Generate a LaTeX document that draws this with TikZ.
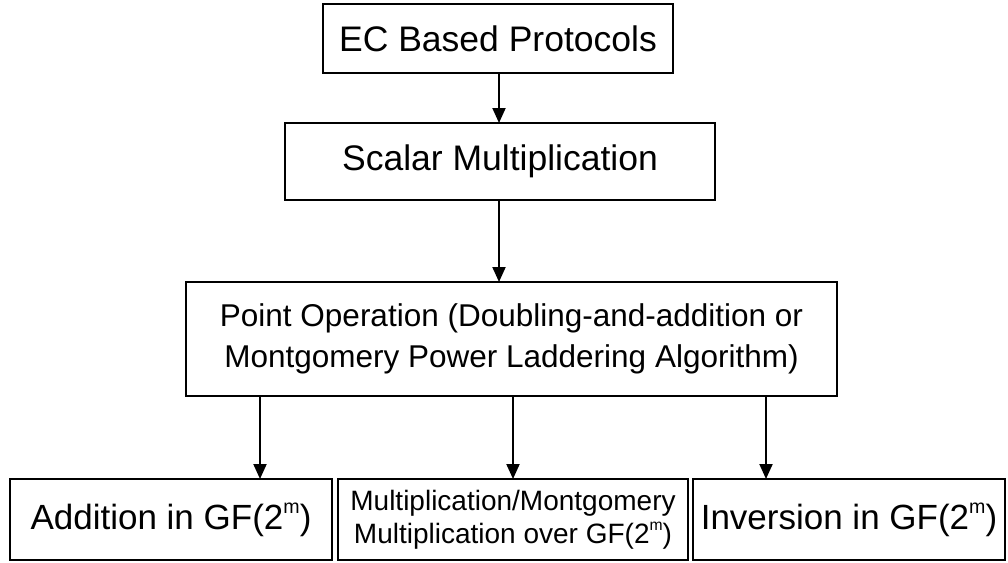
\documentclass[tikz,border=0pt]{standalone}
\usepackage{fontspec}
\setmainfont{Liberation Sans}
\usetikzlibrary{arrows.meta}
\newcommand\gfm{GF(2\raisebox{.45em}{\scalebox{0.56}{m}})}
\tikzset{
  box/.style={draw=black, line width=2.6pt, inner sep=0pt, outer sep=0pt, align=center},
  bigbox/.style={box, font=\fontsize{35.5}{42}\selectfont},
  arr/.style={line width=2pt, -{Triangle[length=15pt,width=13pt]}}
}
\begin{document}
\begin{tikzpicture}[x=1pt,y=-1pt]
\useasboundingbox[fill=white] (0,0) rectangle (1008,562);
\node[bigbox, minimum width=350pt, minimum height=69pt] (ec) at (498,38.5) {EC Based Protocols};
\node[bigbox, minimum width=430pt, minimum height=77pt] (sm) at (500,161.5) {Scalar Multiplication};
\node[box, minimum width=651pt, minimum height=114pt, font=\fontsize{31.5}{41}\selectfont] (po) at (511.5,339)
  {Point Operation (Doubling-and-addition or\\Montgomery Power Laddering Algorithm)};
\node[box, minimum width=322pt, minimum height=81pt, font=\fontsize{35}{42}\selectfont] (add) at (171,519.5) {Addition in \gfm};
\node[box, minimum width=350pt, minimum height=81pt, font=\fontsize{28}{33}\selectfont] (mul) at (513,519.5)
  {Multiplication/Montgomery\\Multiplication over \gfm};
\node[box, minimum width=312pt, minimum height=81pt, font=\fontsize{35}{42}\selectfont] (inv) at (849,519.5) {Inversion in \gfm};
\coordinate (c1) at (260,0);
\coordinate (c2) at (513,0);
\coordinate (c3) at (766,0);
\draw[arr] (ec.south -| 499,0) -- (sm.north -| 499,0);
\draw[arr] (sm.south -| 499,0) -- (po.north -| 499,0);
\draw[arr] (po.south -| c1) -- (add.north -| c1);
\draw[arr] (po.south -| c2) -- (mul.north -| c2);
\draw[arr] (po.south -| c3) -- (inv.north -| c3);
\end{tikzpicture}
\end{document}
